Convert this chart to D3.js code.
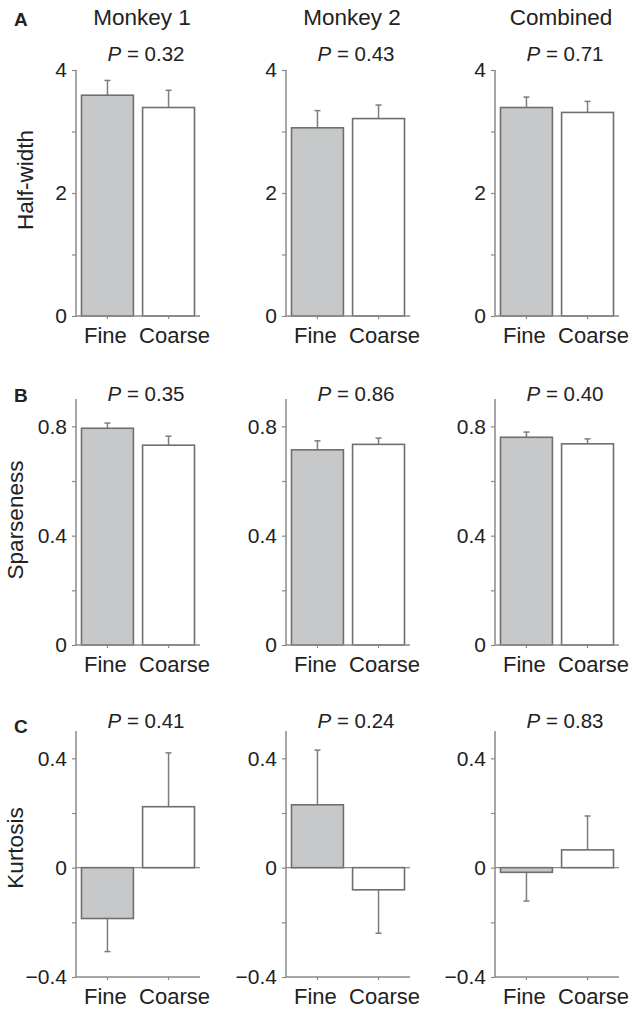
<!DOCTYPE html>
<html>
<head>
<meta charset="utf-8">
<script src="https://cdn.jsdelivr.net/npm/d3@7"></script>
<style>
  body { margin: 0; background: #fff; }
  text { font-family: "Liberation Sans", Arial, sans-serif; fill: #222; }
</style>
</head>
<body>
<div id="my_dataviz"></div>
<script>
// data
var groups = ["Monkey 1", "Monkey 2", "Combined"];
var conditions = ["Fine", "Coarse"];
var metrics = ["Half-width", "Sparseness", "Kurtosis"];
var panelLetters = ["A", "B", "C"];

// mean per group: [Fine, Coarse]
var halfWidthMean = [[3.59, 3.39], [3.06, 3.21], [3.39, 3.31]];
var halfWidthErr  = [[0.24, 0.28], [0.28, 0.22], [0.17, 0.18]];
var halfWidthP    = ["0.32", "0.43", "0.71"];

var sparsenessMean = [[0.793, 0.731], [0.714, 0.734], [0.760, 0.736]];
var sparsenessErr  = [[0.019, 0.033], [0.033, 0.023], [0.019, 0.018]];
var sparsenessP    = ["0.35", "0.86", "0.40"];

var kurtosisMean = [[-0.186, 0.223], [0.230, -0.081], [-0.017, 0.065]];
var kurtosisErr  = [[0.121, 0.197], [0.200, 0.159], [0.105, 0.124]];
var kurtosisP    = ["0.41", "0.24", "0.83"];

// axis domains and ticks (major ticks get a label)
var yDomains = [[0, 4], [0, 0.9], [-0.4, 0.5]];
var yTicks = [[0, 1, 2, 3, 4], [0, 0.2, 0.4, 0.6, 0.8], [-0.4, -0.2, 0, 0.2, 0.4]];
var yTickLabels = [[0, 2, 4], [0, 0.4, 0.8], [-0.4, 0, 0.4]];

var rows = [
  { mean: halfWidthMean, err: halfWidthErr, p: halfWidthP },
  { mean: sparsenessMean, err: sparsenessErr, p: sparsenessP },
  { mean: kurtosisMean, err: kurtosisErr, p: kurtosisP }
];

/*********************
 * LAYOUT
 *********************/
var W = 635, H = 1013;
var colX = [76, 286, 495];      // y axis position per column
var plotW = 124;
var rowTop = [70, 399, 731];     // top of y axis per row
var plotH = 246;
var pBaseline = [61, 401, 728];
var xLabelGap = 27;
var yLabelX = [33, 23, 23];
var yLabelY = [180, 520, 848];
var letterY = [26, 402, 733];

var axisColor = "#8a8a8a";
var barStroke = "#6f6f6f";
var errColor = "#7d7d7d";
var fills = ["#c7c8ca", "#ffffff"];

var svg = d3.select("#my_dataviz")
  .append("svg")
  .attr("width", W)
  .attr("height", H);

var fmt = function(v) { return d3.format("")(v).replace("-", "\u2212"); };

// column titles
svg.selectAll(".colTitle")
  .data(groups)
  .enter()
  .append("text")
  .attr("x", function(d, i) { return colX[i] + 66; })
  .attr("y", 25)
  .attr("text-anchor", "middle")
  .style("font-size", "22.5px")
  .text(function(d) { return d; });

rows.forEach(function(row, r) {

  // panel letter
  svg.append("text")
    .attr("x", 14)
    .attr("y", letterY[r])
    .style("font-size", "19px")
    .style("font-weight", "bold")
    .text(panelLetters[r]);

  // y axis label
  svg.append("text")
    .attr("transform", "translate(" + yLabelX[r] + "," + yLabelY[r] + ") rotate(-90)")
    .attr("text-anchor", "middle")
    .style("font-size", "22.5px")
    .text(metrics[r]);

  groups.forEach(function(g, c) {
    var gPanel = svg.append("g")
      .attr("transform", "translate(" + colX[c] + "," + rowTop[r] + ")");

    var x = d3.scaleBand()
      .domain(conditions)
      .range([0, plotW])
      .paddingInner(0.15)
      .paddingOuter(0.09);

    var y = d3.scaleLinear()
      .domain(yDomains[r])
      .range([plotH, 0]);

    // zero line for signed data
    if (yDomains[r][0] < 0) {
      gPanel.append("line")
        .attr("x1", 0).attr("x2", plotW)
        .attr("y1", y(0)).attr("y2", y(0))
        .style("stroke", axisColor)
        .style("stroke-width", 1.2);
    }

    var vals = conditions.map(function(cond, k) {
      return { cond: cond, mean: row.mean[c][k], err: row.err[c][k], k: k };
    });

    // error bars (one-sided, away from zero)
    var tip = function(d) { return d.mean >= 0 ? d.mean + d.err : d.mean - d.err; };
    gPanel.selectAll("errLine")
      .data(vals)
      .enter()
      .append("line")
      .attr("x1", function(d) { return x(d.cond) + x.bandwidth() / 2; })
      .attr("x2", function(d) { return x(d.cond) + x.bandwidth() / 2; })
      .attr("y1", function(d) { return y(d.mean); })
      .attr("y2", function(d) { return y(tip(d)); })
      .style("stroke", errColor)
      .style("stroke-width", 1.5);
    gPanel.selectAll("errCap")
      .data(vals)
      .enter()
      .append("line")
      .attr("x1", function(d) { return x(d.cond) + x.bandwidth() / 2 - 3; })
      .attr("x2", function(d) { return x(d.cond) + x.bandwidth() / 2 + 3; })
      .attr("y1", function(d) { return y(tip(d)); })
      .attr("y2", function(d) { return y(tip(d)); })
      .style("stroke", errColor)
      .style("stroke-width", 1.5);

    // bars
    gPanel.selectAll("bars")
      .data(vals)
      .enter()
      .append("rect")
      .attr("x", function(d) { return x(d.cond); })
      .attr("width", x.bandwidth())
      .attr("y", function(d) { return y(Math.max(0, d.mean)); })
      .attr("height", function(d) { return Math.abs(y(d.mean) - y(0)); })
      .style("fill", function(d) { return fills[d.k]; })
      .style("stroke", barStroke)
      .style("stroke-width", 1.6);

    // y axis
    var yAxis = gPanel.append("g")
      .call(d3.axisLeft(y)
        .tickValues(yTicks[r])
        .tickSize(4)
        .tickPadding(5)
        .tickFormat(function(v) {
          return yTickLabels[r].some(function(t) { return Math.abs(t - v) < 1e-9; }) ? fmt(v) : "";
        }));
    yAxis.select(".domain").attr("d", "M0," + plotH + "V0");

    // x axis
    var xAxis = gPanel.append("g")
      .attr("transform", "translate(0," + plotH + ")")
      .call(d3.axisBottom(x).tickSize(3).tickFormat(""));
    xAxis.select(".domain").attr("d", "M0,0H" + plotW);

    [yAxis, xAxis].forEach(function(a) {
      a.selectAll(".domain").style("stroke", axisColor).style("stroke-width", 1.5);
      a.selectAll(".tick line").style("stroke", axisColor).style("stroke-width", 1.2);
      a.selectAll(".tick text")
        .style("font-family", "'Liberation Sans', Arial, sans-serif")
        .style("font-size", "21px")
        .style("fill", "#222");
    });

    // category labels
    gPanel.selectAll("catLabel")
      .data(conditions)
      .enter()
      .append("text")
      .attr("x", function(d, k) { return x(d) + x.bandwidth() / 2 + (k === 0 ? -2 : 6); })
      .attr("y", plotH + xLabelGap)
      .attr("text-anchor", "middle")
      .style("font-size", "22px")
      .text(function(d) { return d; });

    // P value
    var pText = svg.append("text")
      .attr("x", colX[c] + 70)
      .attr("y", pBaseline[r])
      .attr("text-anchor", "middle")
      .style("font-size", "20.5px");
    pText.append("tspan").style("font-style", "italic").text("P");
    pText.append("tspan").text(" = " + row.p[c]);
  });
});
</script>
</body>
</html>
